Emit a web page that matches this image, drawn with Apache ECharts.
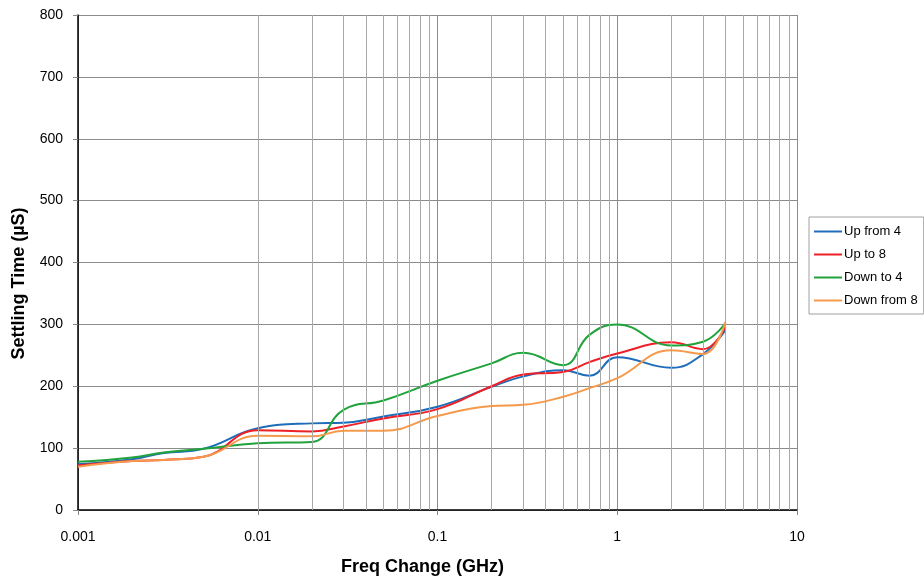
<!DOCTYPE html>
<html>
<head>
<meta charset="utf-8">
<title>Settling Time</title>
<script src="https://cdn.jsdelivr.net/npm/echarts@6/dist/echarts.min.js"></script>
<style>
  html, body { margin: 0; padding: 0; background: #fff; }
  #chart { width: 924px; height: 576px; }
</style>
</head>
<body>
<div id="chart"></div>
<script>
// frequency steps (GHz) where the curves were sampled
var freqs = [0.001, 0.002, 0.003, 0.005, 0.01, 0.02, 0.03, 0.05, 0.1, 0.2, 0.3, 0.5, 0.7, 1, 2, 3, 4];

// settling time (µS)
var upFrom4   = [74, 82, 92, 99, 132, 140, 141, 151, 167, 199, 216, 226, 217, 247, 230, 252, 291];
var upTo8     = [72, 79, 81, 86, 129, 127, 135, 148, 163, 200, 219, 223, 239, 253, 271, 260, 296];
var downTo4   = [78, 85, 93, 99, 108, 110, 162, 177, 209, 237, 254, 234, 283, 300, 266, 272, 302];
var downFrom8 = [70, 79, 81, 86, 120, 119, 128, 128, 152, 168, 170, 183, 197, 213, 258, 252, 304];

// decades and the 2..9 minor grid positions inside each one
var decades = [0.001, 0.01, 0.1, 1];
var minorFactors = [2, 3, 4, 5, 6, 7, 8, 9];

var font = "'Liberation Sans', Arial, sans-serif";

function pairs(ys) {
  return freqs.map(function (f, i) { return [f, ys[i]]; });
}

function lineSeries(name, ys, color) {
  return {
    name: name,
    type: 'line',
    data: pairs(ys),
    smooth: 0.45,
    showSymbol: false,
    symbol: 'none',
    lineStyle: { width: 2, color: color },
    itemStyle: { color: color },
    z: 3
  };
}

var minorLines = [];
decades.forEach(function (d) {
  minorFactors.forEach(function (m) {
    minorLines.push({ xAxis: +(d * m).toPrecision(3) });
  });
});

var chart = echarts.init(document.getElementById('chart'), null, { renderer: 'canvas' });

chart.setOption({
  animation: false,
  backgroundColor: '#fff',
  grid: { left: 78, right: 127, top: 15, bottom: 66, containLabel: false, outerBoundsMode: 'none' },
  legend: {
    orient: 'vertical',
    left: 809,
    top: 217,
    padding: [7, 6, 6, 5],
    borderColor: '#a0a0a0',
    borderWidth: 1,
    itemWidth: 28,
    itemHeight: 2,
    itemGap: 8,
    icon: 'rect',
    textStyle: { fontFamily: font, fontSize: 13, color: '#000', lineHeight: 15, padding: [0, 0, 0, -3] },
    data: ['Up from 4', 'Up to 8', 'Down to 4', 'Down from 8']
  },
  xAxis: {
    type: 'log',
    logBase: 10,
    min: 0.001,
    max: 10,
    name: 'Freq Change (GHz)',
    nameLocation: 'middle',
    nameGap: 48,
    nameTextStyle: { fontFamily: font, fontSize: 18, fontWeight: 'bold', color: '#000', padding: [0, 30, 0, 0] },
    axisLine: { show: true, onZero: false, lineStyle: { color: '#000', width: 1.5 } },
    axisTick: { show: true, length: 5, lineStyle: { color: '#888' } },
    axisLabel: {
      fontFamily: font, fontSize: 14, color: '#000', margin: 20,
      formatter: function (v) { return String(+(+v).toPrecision(3)); }
    },
    splitLine: { show: true, lineStyle: { color: '#8c8c8c', width: 1 } }
  },
  yAxis: {
    type: 'value',
    min: 0,
    max: 800,
    interval: 100,
    name: 'Settling Time (µS)',
    nameLocation: 'middle',
    nameGap: 50,
    nameTextStyle: { fontFamily: font, fontSize: 18, fontWeight: 'bold', color: '#000', padding: [0, 42, 0, 0] },
    axisLine: { show: true, lineStyle: { color: '#000', width: 1.5 } },
    axisTick: { show: true, length: 5, lineStyle: { color: '#888' } },
    axisLabel: { fontFamily: font, fontSize: 14, color: '#000', margin: 15 },
    splitLine: { show: true, lineStyle: { color: '#8c8c8c', width: 1 } }
  },
  series: [
    lineSeries('Up from 4', upFrom4, '#1f6db8'),
    lineSeries('Up to 8', upTo8, '#ee2027'),
    lineSeries('Down to 4', downTo4, '#20a23c'),
    lineSeries('Down from 8', downFrom8, '#f59a4c'),
    {
      // minor vertical grid (2..9 in every decade)
      type: 'line',
      data: [],
      silent: true,
      z: 1,
      markLine: {
        silent: true,
        symbol: 'none',
        animation: false,
        label: { show: false },
        lineStyle: { color: '#a8a8a8', width: 1, type: 'solid' },
        emphasis: { disabled: true },
        data: minorLines
      }
    }
  ]
});
</script>
</body>
</html>
